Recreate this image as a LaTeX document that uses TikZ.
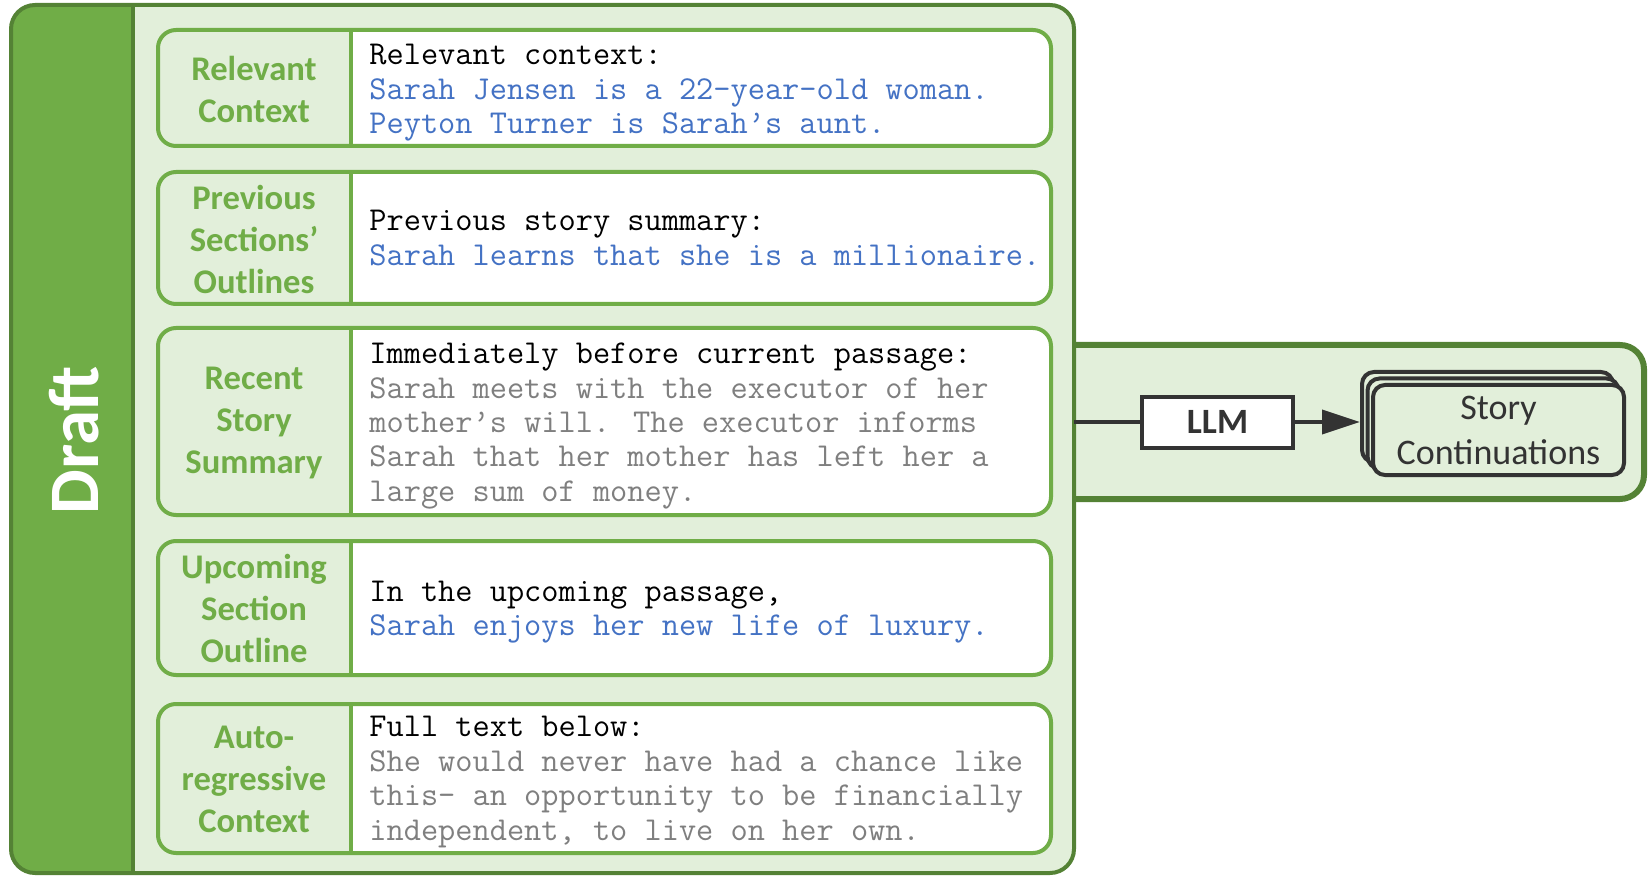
\documentclass[tikz,border=0pt]{standalone}
\usepackage{fontspec}
\setmainfont{Carlito}
\usetikzlibrary{arrows.meta}
\definecolor{darkgreen}{HTML}{548235}
\definecolor{midgreen}{HTML}{70AD47}
\definecolor{palegreen}{HTML}{E2EFDA}
\definecolor{textblue}{HTML}{4472C4}
\definecolor{textgray}{HTML}{7F7F7F}
\definecolor{ink}{HTML}{333333}

% one framed row: label cell on the left, white text cell on the right
\newcommand\rowframe[2]{%
  \fill[white, rounded corners=9pt] (158,#1) rectangle (1051,#2);
  \begin{scope}
    \clip[rounded corners=9pt] (158,#1) rectangle (1051,#2);
    \fill[palegreen] (158,#1) rectangle (351,#2);
  \end{scope}
  \draw[midgreen, line width=2pt] (351,#1) -- (351,#2);
  \draw[midgreen, line width=2pt, rounded corners=9pt] (158,#1) rectangle (1051,#2);
}

\tikzset{
  rowlabel/.style={text=midgreen, align=center, inner sep=0pt,
    font=\bfseries\fontsize{17.3}{21}\selectfont},
  rowtext/.style={anchor=west, align=left, inner sep=0pt,
    font=\ttfamily\fontsize{16.7}{17.2}\selectfont},
  stackbox/.style={draw=ink, line width=2pt, fill=palegreen, rounded corners=6pt,
    minimum width=125.5pt, minimum height=45pt, inner sep=0pt},
  link/.style={draw=ink, line width=2pt},
}

\begin{document}
\begin{tikzpicture}[x=0.5pt,y=-0.5pt]
\useasboundingbox (0,0) rectangle (1650,877);

% right-hand panel with the model and its output
\fill[palegreen, rounded corners=12pt] (1060,345) rectangle (1644,499);
\draw[darkgreen, line width=3pt, rounded corners=12pt]
  (1074,345) -- (1644,345) -- (1644,499) -- (1074,499);

% draft panel
\fill[palegreen, rounded corners=12pt] (11,5) rectangle (1074,873);
\begin{scope}
  \clip[rounded corners=12pt] (11,5) rectangle (1074,873);
  \fill[midgreen] (11,5) rectangle (133,873);
\end{scope}
\draw[darkgreen, line width=2pt] (133,5) -- (133,873);
\draw[darkgreen, line width=2pt, rounded corners=12pt] (11,5) rectangle (1074,873);
\node[rotate=90, text=white, inner sep=0pt, font=\bfseries\fontsize{35.5}{40}\selectfont]
  (draft) at (74,440) {Draft};

% rows
\rowframe{30}{146}
\rowframe{172}{304}
\rowframe{328}{515}
\rowframe{541}{675}
\rowframe{704}{853}

\node[rowlabel] (l1) at (254,89) {Relevant\\Context};
\node[rowlabel] (l2) at (254,239) {Previous\\Sections’\\Outlines};
\node[rowlabel] (l3) at (254,423) {Recent\\Story\\Summary};
\node[rowlabel] (l4) at (254,608) {Upcoming\\Section\\Outline};
\node[rowlabel] (l5) at (254,779) {Auto-\\regressive\\Context};

\node[rowtext] (t1) at (369,93) {Relevant context:\\
  \textcolor{textblue}{Sarah Jensen is a 22-year-old woman.}\\
  \textcolor{textblue}{Peyton Turner is Sarah’s aunt.}};
\node[rowtext] (t2) at (369,238) {Previous story summary:\\
  \textcolor{textblue}{Sarah learns that she is a millionaire.}};
\node[rowtext] (t3) at (369,426) {Immediately before current passage:\\
  \textcolor{textgray}{Sarah meets with the executor of her}\\
  \textcolor{textgray}{mother’s will. The executor informs}\\
  \textcolor{textgray}{Sarah that her mother has left her a}\\
  \textcolor{textgray}{large sum of money.}};
\node[rowtext] (t4) at (369,612) {In the upcoming passage,\\
  \textcolor{textblue}{Sarah enjoys her new life of luxury.}};
\node[rowtext] (t5) at (369,782) {Full text below:\\
  \textcolor{textgray}{She would never have had a chance like}\\
  \textcolor{textgray}{this— an opportunity to be financially}\\
  \textcolor{textgray}{independent, to live on her own.}};

% model and stacked outputs
\node[draw=ink, line width=2pt, fill=white, minimum width=75.5pt, minimum height=25.5pt,
  inner sep=0pt, text=ink, font=\bfseries\fontsize{17.8}{21}\selectfont]
  (llm) at (1217.5,422) {LLM};
\node[stackbox] (sc3) at (1487.5,417) {};
\node[stackbox] (sc2) at (1493,423.5) {};
\node[stackbox, align=center, text=ink, font=\fontsize{18}{22.5}\selectfont]
  (sc1) at (1498.5,430) {Story\\Continuations};

\coordinate (tap) at (1074,422);
\draw[link] (tap) -- (llm.west);
\draw[link, -{Triangle[length=19pt,width=12pt]}] (llm.east) -- (llm.east -| sc3.west);
\end{tikzpicture}
\end{document}
